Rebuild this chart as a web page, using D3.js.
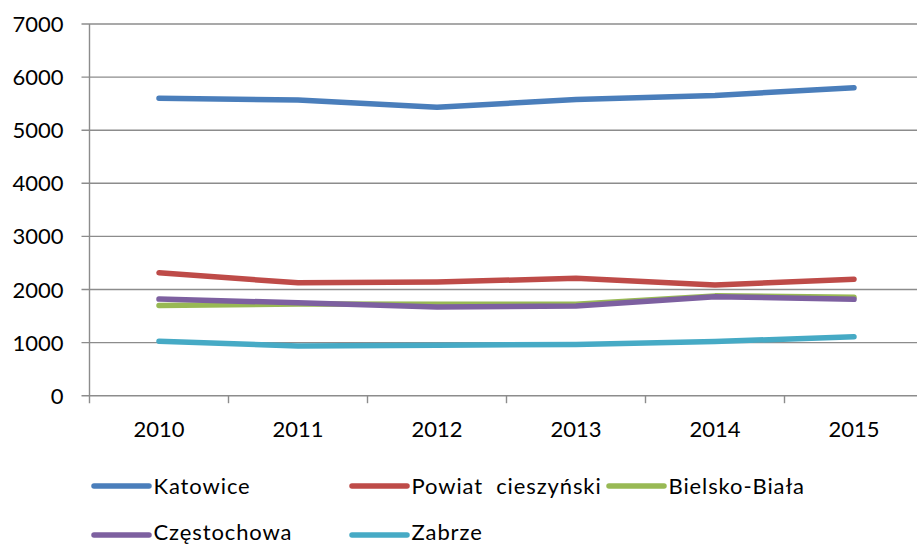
<!DOCTYPE html>
<html>
<head>
<meta charset="utf-8">
<script src="https://cdn.jsdelivr.net/npm/d3@7"></script>
<style>
  html, body { margin: 0; padding: 0; background: #fff; }
  svg { display: block; font-family: Lato, "Open Sans", sans-serif; }
  .lbl { font-size: 22px; fill: #000; }
  .leg { letter-spacing: 0.9px; }
</style>
</head>
<body>
<svg id="chart" width="917" height="545"></svg>
<script>
// Years on the category axis
const years = ["2010", "2011", "2012", "2013", "2014", "2015"];
// Y axis tick values
const yTicks = [0, 1000, 2000, 3000, 4000, 5000, 6000, 7000];

// Series values per year
const katowice     = [5600, 5570, 5430, 5580, 5655, 5800];
const cieszynski   = [2315, 2125, 2140, 2210, 2085, 2195];
const bielskoBiala = [1700, 1725, 1720, 1720, 1880, 1855];
const czestochowa  = [1820, 1750, 1670, 1690, 1865, 1815];
const zabrze       = [1025, 935, 950, 965, 1020, 1110];

const seriesNames  = ["Katowice", "Powiat  cieszyński", "Bielsko-Biała", "Częstochowa", "Zabrze"];
const seriesValues = [katowice, cieszynski, bielskoBiala, czestochowa, zabrze];
const seriesColors = ["#4A7EBB", "#BE4B48", "#98B954", "#7D60A0", "#46AAC5"];

const svg = d3.select("#chart");
const plotLeft = 89.5, bandW = 139, plotTop = 24, plotBottom = 395.7;

const x = d3.scaleBand().domain(years).range([plotLeft, plotLeft + bandW * years.length]).padding(0);
const y = d3.scaleLinear().domain([0, 7000]).range([plotBottom, plotTop]);

const gridColor = "#8c8c8c";

// horizontal gridlines
svg.append("g")
  .selectAll("line")
  .data(yTicks)
  .join("line")
  .attr("x1", plotLeft - 8).attr("x2", 917)
  .attr("y1", d => y(d)).attr("y2", d => y(d))
  .attr("stroke", gridColor).attr("stroke-width", 1.4);

// vertical axis line
svg.append("line")
  .attr("x1", plotLeft).attr("x2", plotLeft)
  .attr("y1", y(7000)).attr("y2", plotBottom + 7.5)
  .attr("stroke", gridColor).attr("stroke-width", 1.4);

// category tick marks at band boundaries
const boundaries = years.map(d => x(d)).concat([x(years[years.length - 1]) + x.bandwidth()]);
svg.append("g")
  .selectAll("line")
  .data(boundaries.slice(1))
  .join("line")
  .attr("x1", d => d).attr("x2", d => d)
  .attr("y1", plotBottom).attr("y2", plotBottom + 7.5)
  .attr("stroke", gridColor).attr("stroke-width", 1.4);

// y tick labels
svg.append("g")
  .selectAll("text")
  .data(yTicks)
  .join("text")
  .attr("class", "lbl")
  .attr("x", 63.5)
  .attr("y", d => y(d) + 8)
  .attr("text-anchor", "end")
  .text(d => d);

// x tick labels
svg.append("g")
  .selectAll("text")
  .data(years)
  .join("text")
  .attr("class", "lbl")
  .attr("x", d => x(d) + x.bandwidth() / 2)
  .attr("y", 437)
  .attr("text-anchor", "middle")
  .text(d => d);

// series lines
const line = d3.line()
  .x((d, i) => x(years[i]) + x.bandwidth() / 2)
  .y(d => y(d));

svg.append("g")
  .selectAll("path")
  .data(seriesValues)
  .join("path")
  .attr("d", d => line(d))
  .attr("fill", "none")
  .attr("stroke", (d, i) => seriesColors[i])
  .attr("stroke-width", 5.5)
  .attr("stroke-linecap", "round")
  .attr("stroke-linejoin", "round");

// legend: swatch line position and text baseline for each entry
const legendPos = [
  { lx: 94, ly: 486, ty: 494 }, { lx: 352, ly: 486, ty: 494 }, { lx: 609, ly: 486, ty: 494 },
  { lx: 94, ly: 535, ty: 540 }, { lx: 352, ly: 535, ty: 540 }
];
const legend = svg.append("g")
  .selectAll("g")
  .data(seriesNames)
  .join("g")
  .attr("transform", (d, i) => `translate(${legendPos[i].lx},0)`);

legend.append("line")
  .attr("x1", 0).attr("x2", 55)
  .attr("y1", (d, i) => legendPos[i].ly).attr("y2", (d, i) => legendPos[i].ly)
  .attr("stroke", (d, i) => seriesColors[i])
  .attr("stroke-width", 5.5)
  .attr("stroke-linecap", "round");

legend.append("text")
  .attr("class", "lbl leg")
  .attr("x", 59.5)
  .attr("y", (d, i) => legendPos[i].ty)
  .style("white-space", "pre")
  .text(d => d);
</script>
</body>
</html>
